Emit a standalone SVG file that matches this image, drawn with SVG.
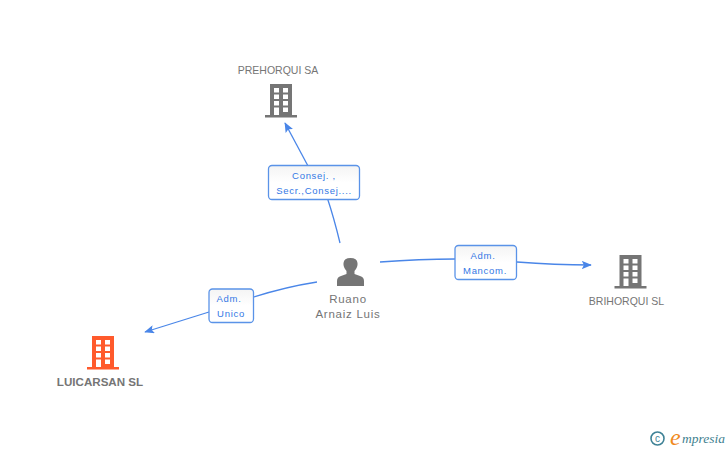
<svg xmlns="http://www.w3.org/2000/svg" width="728" height="450" viewBox="0 0 728 450">
<style>
text{font-family:"Liberation Sans",Arial,sans-serif}
.n{font-size:10.500px;fill:#757575;text-anchor:middle}
.p{font-size:11.500px;fill:#757575;text-anchor:middle;letter-spacing:.75px}
.l{font-size:9.500px;fill:#3478e5;text-anchor:middle;letter-spacing:.7px}
.c{fill:none;stroke:#4a86e8;stroke-width:1.300}
.b{fill:url(#g);stroke:#5a93e8;stroke-width:1.300}
.w{fill:#fff}
</style>
<defs>
<linearGradient id="g" x1="0" y1="0" x2="0" y2="1"><stop offset="0" stop-color="#f4f4f4"/><stop offset=".5" stop-color="#fff"/></linearGradient>
<marker id="a" viewBox="0 0 12 10" refX="11" refY="5" markerWidth="10" markerHeight="8.500" markerUnits="userSpaceOnUse" orient="auto"><path d="M0 0L12 5L0 10L2.500 5Z" fill="#4a86e8"/></marker>
<g id="bld">
<path d="M5 0H27V31H5Z"/><rect x="0" y="31" width="32" height="2.500"/>
<g class="w"><rect x="9" y="4" width="5" height="4.500"/><rect x="18" y="4" width="5" height="4.500"/><rect x="9" y="10.500" width="5" height="4.500"/><rect x="18" y="10.500" width="5" height="4.500"/><rect x="9" y="17" width="5" height="4.500"/><rect x="18" y="17" width="5" height="4.500"/><rect x="9" y="23.500" width="5" height="7.500"/><rect x="18" y="23.500" width="5" height="4.500"/></g>
</g>
</defs>
<rect width="728" height="450" fill="#fff"/>
<g id="connectors">
<path class="c" d="M340 243Q334 218 327 197"/>
<path class="c" d="M308 166L285 123" marker-end="url(#a)"/>
<path class="c" d="M380 262Q420 259 455 259"/>
<path class="c" d="M517 262Q555 265 591 265" marker-end="url(#a)"/>
<path class="c" d="M317 282Q285 287 254 297"/>
<path class="c" d="M209 312L145 332" marker-end="url(#a)"/>
</g>
<g id="edge-label-1"><rect class="b" x="268.500" y="165.500" width="91" height="34" rx="3.500"/><text class="l" x="314" y="179">Consej. ,</text><text class="l" x="314" y="194">Secr.,Consej....</text></g>
<g id="edge-label-2"><rect class="b" x="455" y="245.500" width="61.500" height="34" rx="3.500"/><text class="l" x="483" y="259">Adm.</text><text class="l" x="485" y="274">Mancom.</text></g>
<g id="edge-label-3"><rect class="b" x="209" y="289" width="44.500" height="33.500" rx="3.500"/><text class="l" x="229" y="302">Adm.</text><text class="l" x="231" y="317">Unico</text></g>
<g id="node-prehorqui"><text class="n" x="278" y="74">PREHORQUI SA</text><use href="#bld" x="265" y="84" fill="#757575"/></g>
<g id="node-brihorqui"><text class="n" x="626.500" y="305">BRIHORQUI SL</text><use href="#bld" x="614.500" y="255" fill="#757575"/></g>
<g id="node-luicarsan"><use href="#bld" x="87" y="336" fill="#ff5a2c"/><text class="n" x="100" y="386" style="font-weight:700;font-size:11.600px">LUICARSAN SL</text></g>
<g id="node-ruano"><path d="M337 286V281Q337 277 341 276L346.500 274V271Q343 267 343.500 263Q344 258 350.500 258Q357 258 357.500 263Q358 267 354.500 271V274L360 276Q364 277 364 281V286Z" fill="#757575"/><text class="p" x="348" y="303">Ruano</text><text class="p" x="348" y="318">Arnaiz Luis</text></g>
<g id="logo"><circle cx="657.500" cy="438.500" r="6.500" fill="none" stroke="#3f8296" stroke-width="1.600"/><text x="657.500" y="442" font-size="10" fill="#3f8296" text-anchor="middle">c</text><text x="670" y="445" font-size="24" fill="#f08a1d" style="font-family:'Liberation Serif',serif;font-style:italic">e</text><text x="682" y="443" font-size="13.500" fill="#3f7f8f" style="font-family:'Liberation Serif',serif;font-style:italic">mpresia</text></g>
</svg>
